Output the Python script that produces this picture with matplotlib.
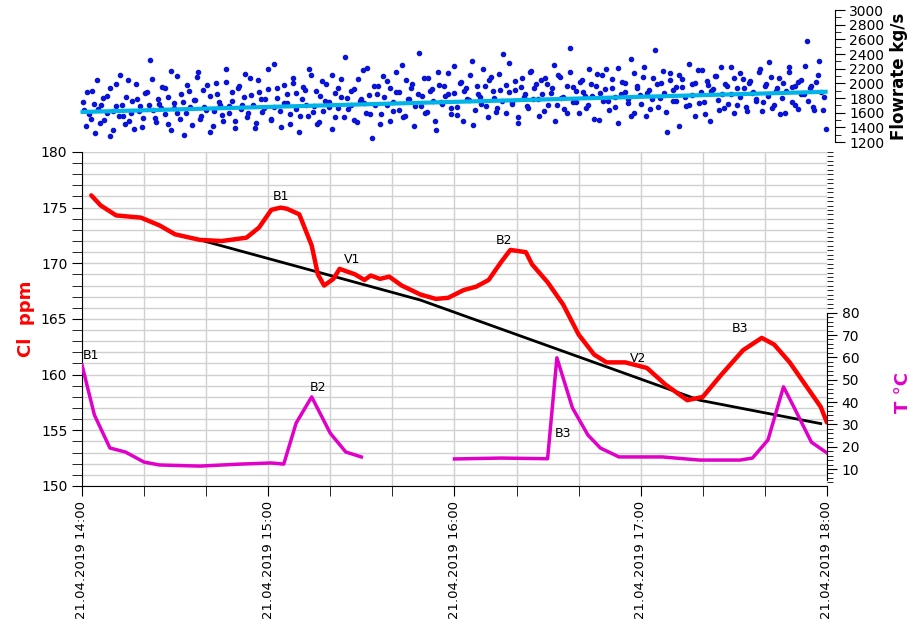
import matplotlib
matplotlib.use("Agg")
import matplotlib.pyplot as plt
from matplotlib.ticker import MultipleLocator

# minutes since 14:00
cl_t = [3, 6, 11, 19, 25, 30, 38, 45, 53, 57, 61, 64, 66, 70, 74, 76, 78, 81, 83, 86, 88, 91,
        93, 96, 99, 103, 109, 114, 118, 123, 127, 131, 135, 138, 143, 145, 150, 155, 160, 165,
        169, 175, 182, 188, 195, 200, 206, 213, 219, 223, 228, 233, 238, 240]
cl_v = [176.1, 175.2, 174.3, 174.1, 173.4, 172.6, 172.1, 172.0, 172.3, 173.2, 174.8, 175.0, 174.9,
        174.4, 171.6, 169.0, 168.0, 168.6, 169.5, 169.2, 169.0, 168.5, 168.9, 168.6, 168.8, 168.0,
        167.2, 166.8, 166.9, 167.6, 167.9, 168.5, 170.1, 171.2, 171.0, 169.9, 168.3, 166.3, 163.6,
        161.8, 161.1, 161.1, 160.6, 159.1, 157.7, 158.0, 160.0, 162.2, 163.3, 162.7, 161.1, 159.1,
        157.1, 155.7]

trend_t = [38, 109, 199, 238]
trend_v = [172.1, 166.7, 157.7, 155.6]

temp_t1 = [0, 4, 9, 14, 20, 25, 38, 51, 61, 65, 69, 74, 80, 85, 90]
temp_v1 = [56.6, 34.2, 19.4, 17.6, 13.1, 11.8, 11.3, 12.2, 12.7, 12.2, 30.6, 42.3, 26.0, 17.6, 15.4]
temp_t2 = [120, 135, 150, 153, 158, 163, 167, 173, 187, 199, 212, 216, 221, 226, 229, 235, 240]
temp_v2 = [14.5, 14.9, 14.6, 59.8, 37.4, 25.2, 19.4, 15.4, 15.4, 14.0, 14.0, 14.9, 23.0, 46.8, 38.7, 22.0, 17.2]

flow = [1750, 1420, 1580, 1900, 1320, 1650, 1700, 1500, 1830, 1280, 1620, 1990, 1560, 1710, 1450,
        2050, 1600, 1380, 1780, 1690, 1530, 1880, 2320, 1640, 1470, 1720, 1950, 1580, 1810, 1360,
        1660, 2100, 1520, 1740, 1600, 1890, 1430, 1770, 2150, 1550, 1680, 1980, 1340, 1620, 1850,
        1710, 1480, 2020, 1590, 1760, 1390, 1930, 1650, 1820, 1540, 2080, 1700, 1460, 1880, 1610,
        1790, 2200, 1520, 1680, 1940, 1400, 1730, 1860, 1580, 2010, 1650, 1330, 1780, 1910, 1560,
        2120, 1690, 1450, 1830, 1620, 1990, 1740, 1380, 1870, 1660, 2060, 1540, 1800, 1710, 1920,
        1470, 1760, 2180, 1600, 1840, 1250, 1700, 1960, 1580, 1820, 2030, 1490, 1750, 1880, 1640,
        2250, 1560, 1790, 1930, 1420, 1850, 1690, 2070, 1610, 1900, 1760, 1360, 1980, 1720, 1830,
        2140, 1580, 1870, 1680, 2010, 1490, 1940, 1770, 2300, 1630, 1850, 1720, 1960, 1540, 2090,
        1800, 1670, 1910, 2400, 1590, 1880, 1740, 2030, 1460, 1950, 1820, 1690, 2150, 1780, 1990,
        1560, 1860, 2070, 1710, 1930, 1480, 2110, 1800, 1650, 1970, 2480, 1740, 1890, 1590, 2040,
        1830, 1700, 1990, 1520, 2130, 1870, 1760, 2200, 1640, 1940, 1810, 1460, 2020, 1880, 1730,
        2330, 1600, 1960, 1840, 2090, 1550, 1910, 1780, 2450, 1680, 2010, 1870, 1330, 2140, 1760,
        1950, 1420, 2060, 1820, 1700, 1990, 1560, 2180, 1880, 1750, 2030, 1480, 1920, 2100, 1640,
        1860, 1990, 1720, 2230, 1590, 1940, 1810, 2060, 1680, 2000, 1870, 1760, 2150, 1620, 1960,
        1830, 2090, 1700, 1940, 1580, 2010, 1890, 2230, 1750, 1970, 1650, 2050, 1860, 2580, 1930,
        1680, 2020, 2300, 1640, 1380]
flow2 = [1640, 1880, 1510, 1720, 2040, 1460, 1800, 1590, 1930, 1370, 1690, 2120, 1550, 1820, 1480,
         1760, 1990, 1620, 1410, 1870, 1700, 2060, 1530, 1790, 1660, 1940, 1450, 2170, 1730, 1600,
         1850, 1300, 1980, 1680, 1770, 2090, 1520, 1910, 1640, 1830, 1420, 2010, 1750, 1570, 2200,
         1690, 1880, 1480, 1960, 1710, 2130, 1590, 1840, 1390, 2050, 1780, 1660, 1920, 1500, 2270,
         1800, 1620, 1980, 1730, 1440, 2080, 1870, 1560, 1950, 1700, 2190, 1610, 1890, 1470, 2030,
         1760, 1680, 2120, 1540, 1940, 1820, 2360, 1650, 1900, 1500, 2060, 1790, 1730, 2210, 1580,
         1970, 1850, 1450, 2100, 1710, 1930, 1620, 2160, 1880, 1540, 2040, 1780, 1990, 1690, 2420,
         1830, 1600, 2070, 1920, 1480, 2150, 1740, 1960, 1860, 1660, 2240, 1570, 2020, 1900, 1780,
         2110, 1430, 1970, 1820, 2200, 1690, 2050, 1890, 1610, 2130, 1760, 1980, 2280, 1720, 1910,
         1540, 2080, 1850, 1670, 2170, 1930, 1780, 2040, 1620, 1990, 1870, 2250, 1700, 2090, 1810,
         1590, 2160, 1950, 1740, 2020, 1880, 1660, 2190, 1830, 1970, 1500, 2110, 1920, 1760, 2060,
         1680, 2210, 1860, 2000, 1790, 1560, 2140, 1940, 1720, 2230, 1870, 1650, 2080, 1990, 1800,
         2170, 1610, 2040, 1910, 1760, 2120, 1950, 1690, 2260, 1840, 2010, 1730, 2180, 1580, 1980,
         1890, 2100, 1770, 2220, 1660, 1960, 1850, 2070, 1710, 2140, 1930, 1620, 2030, 1880, 1790,
         2190, 1740, 1990, 2290, 1670, 1900, 2080, 1800, 1590, 2150, 1950, 1700, 2020, 1860, 2240,
         1760, 1970, 1640, 2110, 1880, 1820]
flow_trend = [1610, 1885]

RED = "#ff0000"
MAG = "#e000c8"

fig = plt.figure(figsize=(9.17, 6.24), dpi=100)
ax = fig.add_axes([0.0894, 0.2212, 0.8124, 0.5353])
ax.plot(cl_t, cl_v, color=RED, lw=3.2, solid_capstyle="round", zorder=4)
ax.plot(trend_t, trend_v, color="black", lw=2, zorder=3)
ax.set_xlim(0, 240)
ax.set_ylim(150, 180)
ax.yaxis.set_major_locator(MultipleLocator(5))
ax.yaxis.set_minor_locator(MultipleLocator(1))
ax.xaxis.set_minor_locator(MultipleLocator(20))
ax.grid(which="both", color="#d0d0d0", lw=1)
ax.set_axisbelow(True)
for s in ("top", "right"):
    ax.spines[s].set_visible(False)
ax.tick_params(which="major", length=7, labelsize=10)
ax.tick_params(axis="x", labelsize=9.5)
ax.tick_params(which="minor", length=7)
ax.set_xticks([0, 60, 120, 180, 240])
ax.set_xticklabels(["21.04.2019 %d:00" % h for h in range(14, 19)], rotation=90)
ax.set_ylabel("Cl  ppm", color=RED, fontsize=13, fontweight="bold")

for txt, x, y in [("B1", 64, 175.4), ("V1", 87, 169.8), ("B2", 136, 171.5),
                  ("V2", 179, 160.9), ("B3", 212, 163.6)]:
    ax.text(x, y, txt, fontsize=9, ha="center", va="bottom")

ax2 = ax.twinx()
ax2.set_ylim(2.4, 152)
ax2.plot(temp_t1, temp_v1, color=MAG, lw=2.5, zorder=4)
ax2.plot(temp_t2, temp_v2, color=MAG, lw=2.5, zorder=4)
for s in ("top", "left", "bottom"):
    ax2.spines[s].set_visible(False)
ax2.spines["right"].set_bounds(5, 80)
ax2.set_yticks(range(10, 90, 10))
ax2.yaxis.set_minor_locator(MultipleLocator(2))
ax2.tick_params(which="major", length=7, labelsize=10)
ax2.tick_params(which="minor", length=4)
ax2.set_ylabel("T °C", color=MAG, fontsize=13, fontweight="bold")
ax2.yaxis.set_label_coords(1.09, 0.28)
for txt, x, y in [("B1", 3, 58), ("B2", 76, 43.5), ("B3", 155, 23)]:
    ax2.text(x, y, txt, fontsize=9, ha="center", va="bottom")

top = fig.add_axes([0.085, 0.7724, 0.8254, 0.2115])
ft = [i * 240 / (len(flow) - 1) for i in range(len(flow))]
ft2 = [(i + 0.5) * 240 / len(flow2) for i in range(len(flow2))]
top.scatter(ft, flow, s=9, color="#0a14d8", zorder=3)
top.scatter(ft2, flow2, s=9, color="#0a14d8", zorder=3)
top.plot([0, 240], flow_trend, color="#00b4e6", lw=3, zorder=4)
top.set_xlim(-1.5, 243)
top.set_ylim(1200, 3000)
for s in ("top", "left", "bottom"):
    top.spines[s].set_visible(False)
top.set_xticks([])
top.yaxis.tick_right()
top.set_yticks(range(1200, 3001, 200))
top.yaxis.set_minor_locator(MultipleLocator(100))
top.tick_params(which="major", length=7, labelsize=10)
top.tick_params(which="minor", length=4)
top.yaxis.set_label_position("right")
top.set_ylabel("Flowrate kg/s", fontsize=12, fontweight="bold")

fig.savefig("out.png", dpi=100)
